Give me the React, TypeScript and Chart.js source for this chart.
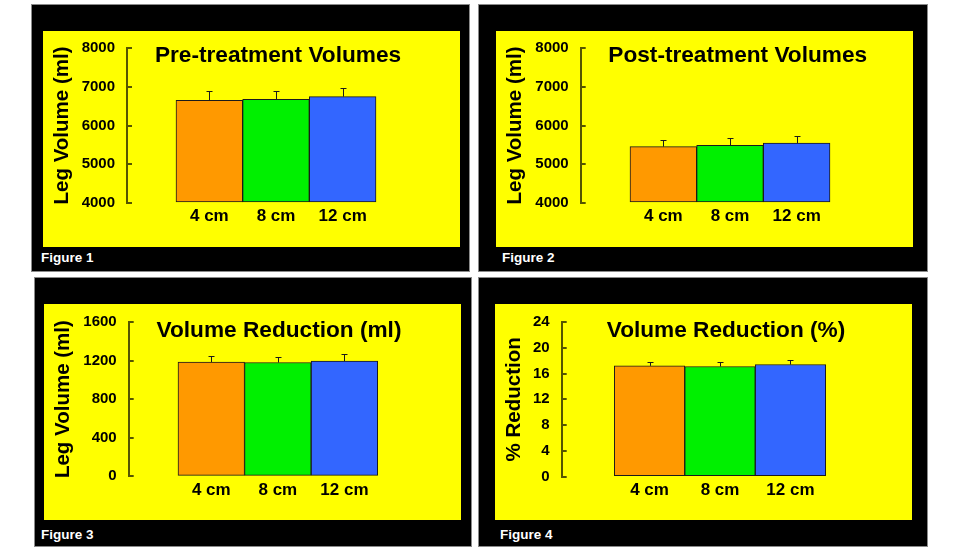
import React, { useEffect, useRef } from "react";
import { Chart, registerables } from "chart.js";

Chart.register(...registerables);

// ---------- data ----------
const categories = ["4 cm", "8 cm", "12 cm"];
const preValues = [6650, 6675, 6745];
const preErrors = [250, 225, 215];
const postValues = [5455, 5490, 5545];
const postErrors = [180, 180, 180];
const reductionMlValues = [1185, 1180, 1195];
const reductionMlErrors = [65, 60, 72];
const reductionPctValues = [17.2, 17.1, 17.4];
const reductionPctErrors = [0.6, 0.65, 0.65];
const barColors = ["#FF9900", "#00F000", "#3366FF"];

const FONT = "'Liberation Sans', Arial, Helvetica, sans-serif";
const AXIS = "#555500";

type Panel = {
  title: string;
  yTitle: string;
  figure: string;
  values: number[];
  errors: number[];
  yMin: number;
  yMax: number;
  yStep: number;
  frame: { x: number; y: number; w: number; h: number };
  yellow: { x: number; y: number; w: number; h: number };
  axisX: number;
  barL: number;
  barR: number;
  yTop: number;
  yBot: number;
  titleCX: number;
  titleCY: number;
  yTitleX: number;
  figX: number;
  figCY: number;
};

const panels: Panel[] = [
  {
    title: "Pre-treatment Volumes", yTitle: "Leg Volume (ml)", figure: "Figure 1",
    values: preValues, errors: preErrors, yMin: 4000, yMax: 8000, yStep: 1000,
    frame: { x: 31, y: 4, w: 439, h: 268 }, yellow: { x: 43, y: 31, w: 417, h: 216 },
    axisX: 84, barL: 133, barR: 333, yTop: 17, yBot: 172, titleCX: 235, titleCY: 25, yTitleX: 19.5,
    figX: 41, figCY: 258,
  },
  {
    title: "Post-treatment Volumes", yTitle: "Leg Volume (ml)", figure: "Figure 2",
    values: postValues, errors: postErrors, yMin: 4000, yMax: 8000, yStep: 1000,
    frame: { x: 478, y: 4, w: 450, h: 268 }, yellow: { x: 496, y: 31, w: 417, h: 216 },
    axisX: 84.7, barL: 134, barR: 334, yTop: 17, yBot: 172, titleCX: 241.7, titleCY: 25.2, yTitleX: 19.5,
    figX: 502, figCY: 258,
  },
  {
    title: "Volume Reduction (ml)", yTitle: "Leg Volume (ml)", figure: "Figure 3",
    values: reductionMlValues, errors: reductionMlErrors, yMin: 0, yMax: 1600, yStep: 400,
    frame: { x: 34, y: 277, w: 438, h: 270 }, yellow: { x: 44, y: 304, w: 417, h: 216 },
    axisX: 84.7, barL: 134, barR: 333.7, yTop: 18, yBot: 172.3, titleCX: 235, titleCY: 26.3, yTitleX: 19.2,
    figX: 41, figCY: 534.5,
  },
  {
    title: "Volume Reduction (%)", yTitle: "% Reduction", figure: "Figure 4",
    values: reductionPctValues, errors: reductionPctErrors, yMin: 0, yMax: 24, yStep: 4,
    frame: { x: 478, y: 277, w: 450, h: 270 }, yellow: { x: 495, y: 304, w: 417, h: 216 },
    axisX: 66.7, barL: 119.3, barR: 330.7, yTop: 18, yBot: 172.7, titleCX: 231, titleCY: 26.3, yTitleX: 19.4,
    figX: 500, figCY: 534.5,
  },
];

function PanelChart({ p }: { p: Panel }) {
  const ref = useRef<HTMLCanvasElement>(null);

  useEffect(() => {
    if (!ref.current) return;
    const W = p.yellow.w;
    const H = p.yellow.h;
    const n = categories.length;
    const unit = (p.barR - p.barL) / n;
    const chartRight = 2 * p.titleCX - p.axisX;
    const xMin = 0.5 - (p.barL - p.axisX) / unit;
    const xMax = n + 0.5 + (chartRight - p.barR) / unit;
    const xH = 30;
    const padBottom = H - p.yBot - xH;
    const titleSize = 22.65;
    const titleLH = titleSize * 1.2;
    const titlePadTop = p.titleCY - titleLH / 2;
    const titlePadBottom = p.yTop - titleLH - titlePadTop;
    const yTitleSize = 20.5;
    const yTitleLH = yTitleSize * 1.2;

    const errorPlugin = {
      id: "errorBars",
      afterDatasetsDraw(chart: any) {
        const ctx = chart.ctx;
        const meta = chart.getDatasetMeta(0);
        const ys = chart.scales.y;
        ctx.save();
        ctx.strokeStyle = "#1a1a1a";
        ctx.lineWidth = 1;
        meta.data.forEach((bar: any, i: number) => {
          const x = Math.round(bar.x) + 0.5;
          const yv = ys.getPixelForValue(p.values[i]);
          const ye = Math.round(ys.getPixelForValue(p.values[i] + p.errors[i])) + 0.5;
          ctx.beginPath();
          ctx.moveTo(x, yv);
          ctx.lineTo(x, ye);
          ctx.moveTo(x - 3, ye);
          ctx.lineTo(x + 3, ye);
          ctx.stroke();
        });
        ctx.restore();
      },
    };

    const chart = new Chart(ref.current, {
      type: "bar",
      data: {
        datasets: [
          {
            data: p.values.map((v, i) => ({ x: i + 1, y: v })),
            backgroundColor: barColors,
            borderColor: "#1a1a1a",
            borderWidth: 1,
            borderSkipped: false,
            barPercentage: 1,
            categoryPercentage: 1,
            base: p.yMin,
          } as any,
        ],
      },
      options: {
        animation: false,
        responsive: false,
        maintainAspectRatio: false,
        events: [],
        layout: { padding: { left: 0, top: 0, right: W - chartRight, bottom: padBottom } },
        plugins: {
          legend: { display: false },
          tooltip: { enabled: false },
          title: {
            display: true,
            text: p.title,
            fullSize: false,
            color: "#000",
            font: { family: FONT, size: titleSize, weight: "bold", lineHeight: 1.2 },
            padding: { top: titlePadTop, bottom: titlePadBottom },
          },
        },
        scales: {
          x: {
            type: "linear",
            min: xMin,
            max: xMax,
            offset: false,
            grid: { display: false, drawTicks: false },
            border: { display: false },
            afterBuildTicks: (s: any) => {
              s.ticks = categories.map((_, i) => ({ value: i + 1 }));
            },
            afterFit: (s: any) => {
              s.height = xH;
              s.paddingLeft = 0;
              s.paddingRight = 0;
              s.paddingTop = 0;
              s.paddingBottom = 0;
            },
            ticks: {
              autoSkip: false,
              maxRotation: 0,
              minRotation: 0,
              padding: 3.5,
              color: "#000",
              font: { family: FONT, size: 17, weight: "bold", lineHeight: 1.2 },
              callback: (v: any) => categories[Math.round(Number(v)) - 1] ?? "",
            },
          },
          y: {
            type: "linear",
            min: p.yMin,
            max: p.yMax,
            afterFit: (s: any) => {
              s.width = p.axisX;
              s.paddingTop = 0;
              s.paddingBottom = 0;
              s.paddingLeft = 0;
              s.paddingRight = 0;
            },
            grid: {
              drawOnChartArea: false,
              drawTicks: true,
              tickLength: -5,
              color: AXIS,
              lineWidth: 2,
            },
            border: { display: true, color: AXIS, width: 2 },
            ticks: {
              stepSize: p.yStep,
              padding: 17,
              color: "#000",
              font: { family: FONT, size: 15, weight: "bold", lineHeight: 1.2 },
              callback: (v: any) => String(v),
            },
            title: {
              display: true,
              text: p.yTitle,
              color: "#000",
              font: { family: FONT, size: yTitleSize, weight: "bold", lineHeight: 1.2 },
              padding: { top: p.yTitleX - yTitleLH / 2, bottom: 0 },
            },
          },
        },
      } as any,
      plugins: [errorPlugin],
    });

    return () => chart.destroy();
  }, [p]);

  return (
    <canvas
      ref={ref}
      width={p.yellow.w}
      height={p.yellow.h}
      style={{ display: "block", width: p.yellow.w, height: p.yellow.h }}
    />
  );
}

export default function App() {
  return (
    <div
      style={{
        position: "absolute",
        left: 0,
        top: 0,
        width: 957,
        height: 547,
        background: "#ffffff",
        overflow: "hidden",
        fontFamily: FONT,
      }}
    >
      {panels.map((p, i) => (
        <React.Fragment key={i}>
          <div
            style={{
              position: "absolute",
              left: p.frame.x,
              top: p.frame.y,
              width: p.frame.w,
              height: p.frame.h,
              background: "#000",
              border: "1px solid #8a8a8a",
              boxSizing: "border-box",
            }}
          />
          <div
            style={{
              position: "absolute",
              left: p.yellow.x,
              top: p.yellow.y,
              width: p.yellow.w,
              height: p.yellow.h,
              background: "#FFFF00",
            }}
          >
            <PanelChart p={p} />
          </div>
          <div
            style={{
              position: "absolute",
              left: p.figX,
              top: p.figCY - 8,
              height: 16,
              lineHeight: "16px",
              color: "#fff",
              fontWeight: "bold",
              fontSize: 13.5,
              whiteSpace: "nowrap",
            }}
          >
            {p.figure}
          </div>
        </React.Fragment>
      ))}
    </div>
  );
}
